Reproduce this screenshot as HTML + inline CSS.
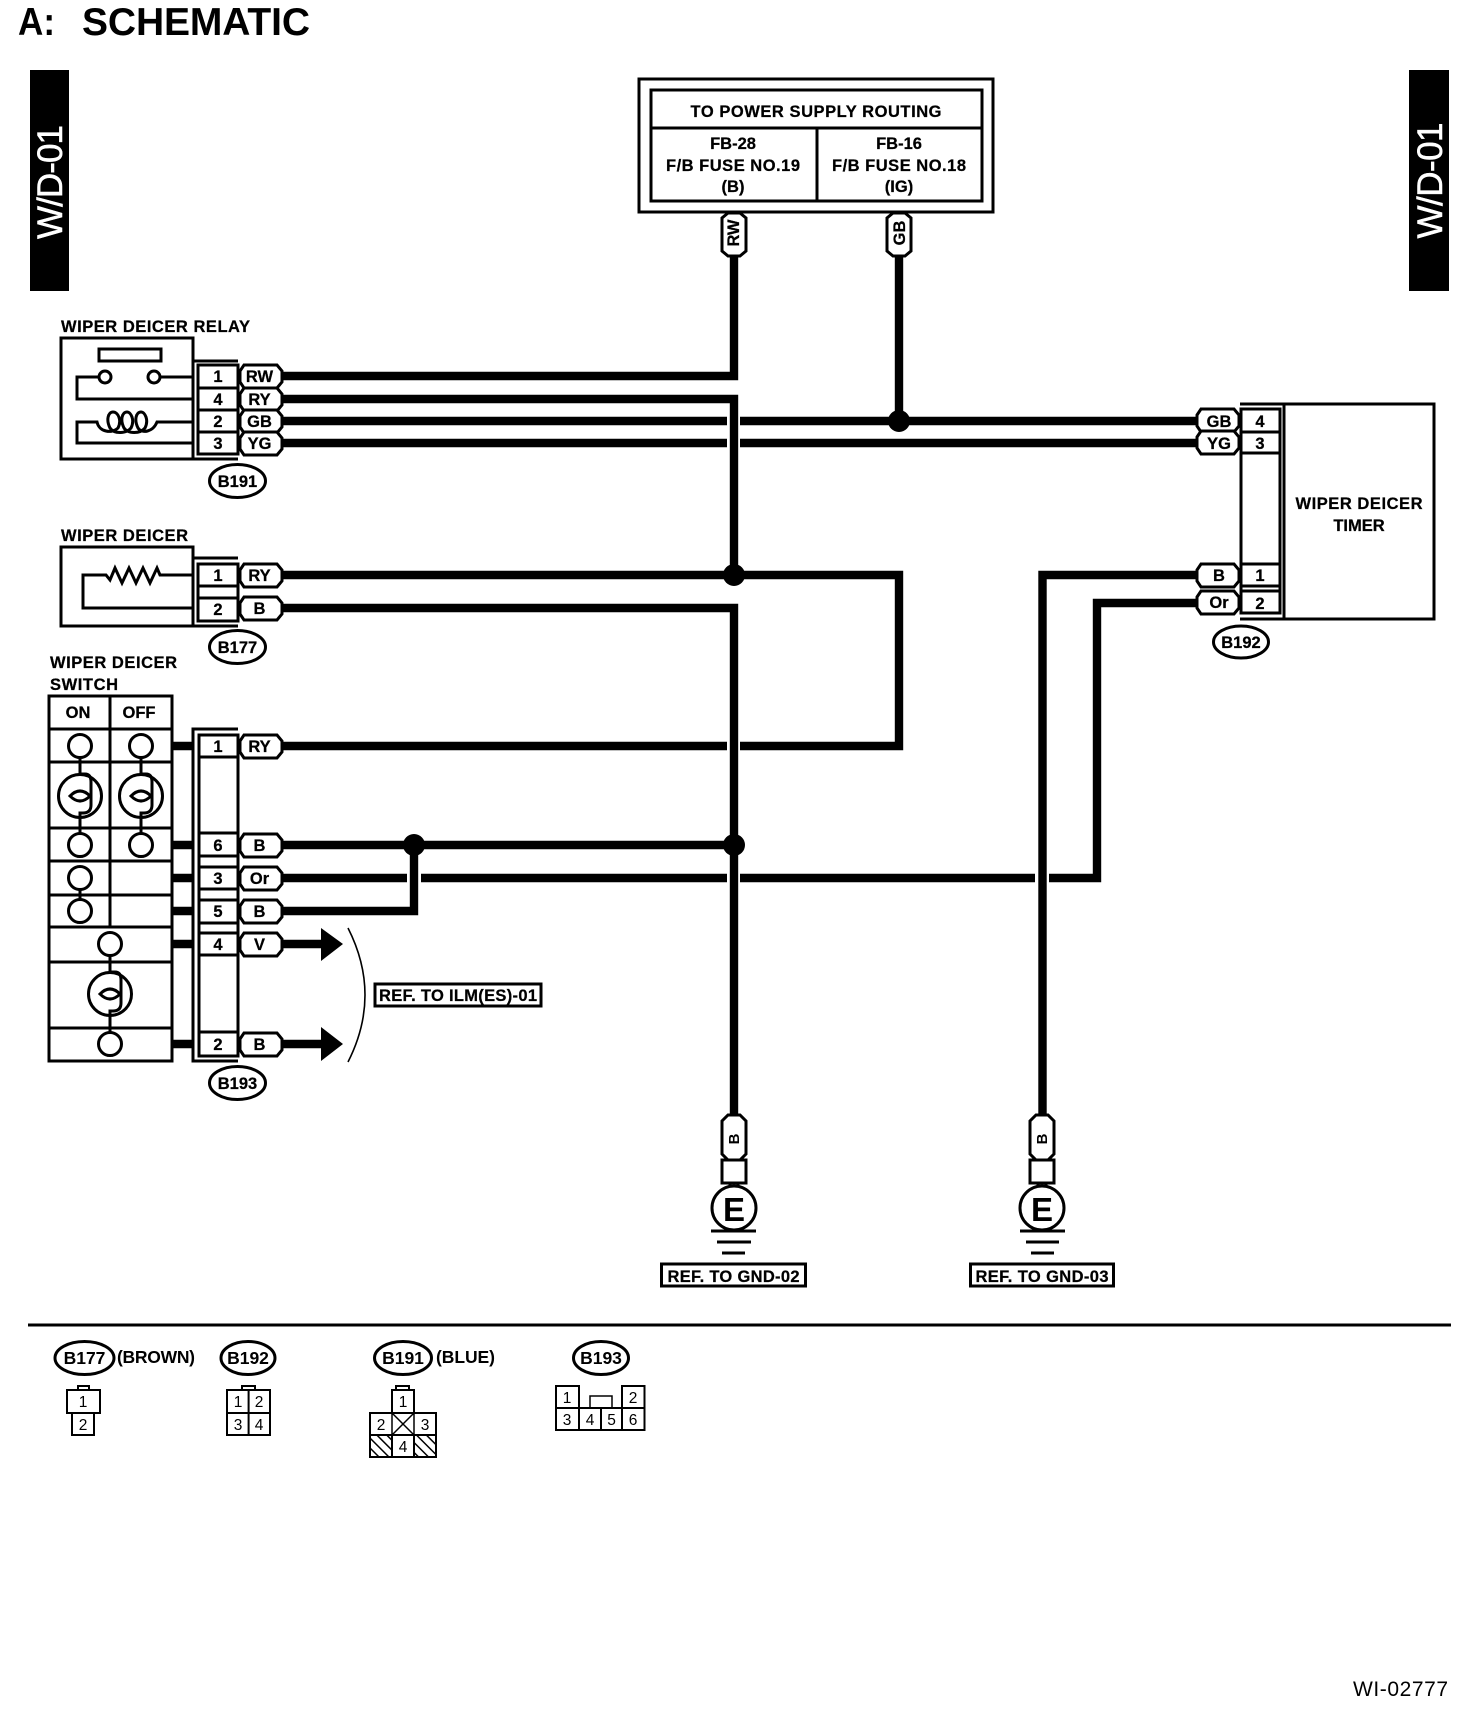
<!DOCTYPE html>
<html><head><meta charset="utf-8"><title>Schematic</title>
<style>
html,body{margin:0;padding:0;background:#fff}
svg{display:block}
text{font-family:"Liberation Sans",sans-serif;fill:#000}
.b{font-weight:700;font-size:16.5px;stroke:#000;stroke-width:.25}
.c{text-anchor:middle}
.r{font-size:15.5px;text-anchor:middle}
.l{fill:none;stroke:#000;stroke-width:3}
.lt{fill:none;stroke:#000;stroke-width:2}
.w{fill:none;stroke:#000;stroke-width:8.4;stroke-linejoin:miter}
.p{fill:#fff;stroke:#000;stroke-width:3}
</style></head><body>
<svg width="1472" height="1714" viewBox="0 0 1472 1714" xmlns="http://www.w3.org/2000/svg">
<defs>
<polygon id="pill" class="p" points="5,0 38,0 43,6 43,17 38,23 5,23 1,17 1,6"/>
<polygon id="vpill" class="p" points="6,0 18,0 24,5 24,38 18,43 6,43 0,38 0,5"/>
<g id="lamp">
<circle class="l" r="21.5"/>
<path class="l" d="M0 -39V-22H5Q11 -22 11 -14V9Q11 17 3 17H0V38"/>
<path class="l" d="M-10 0Q0 -10 10 0Q0 10 -10 0Z"/>
</g>
<pattern id="hatch" width="7" height="7" patternUnits="userSpaceOnUse" patternTransform="rotate(-45)">
<rect x="0" y="0" width="1.5" height="7" fill="#000"/>
</pattern>
</defs>

<!-- Title -->
<text x="18" y="35" font-size="39" font-weight="700" textLength="37" lengthAdjust="spacingAndGlyphs">A:</text>
<text x="82" y="35" font-size="39" font-weight="700" textLength="228">SCHEMATIC</text>

<!-- Side tabs -->
<rect x="30" y="70" width="39" height="221" fill="#000"/>
<rect x="1409" y="70" width="40" height="221" fill="#000"/>
<text transform="translate(62,239) rotate(-90)" font-size="35" textLength="114" style="fill:#fff;stroke:#fff;stroke-width:.5">W/D-01</text>
<text transform="translate(1442,238.5) rotate(-90)" font-size="35" textLength="116" style="fill:#fff;stroke:#fff;stroke-width:.5">W/D-01</text>

<!-- Power supply box -->
<rect class="l" x="639" y="79" width="354" height="133"/>
<rect class="l" x="651" y="90" width="331" height="111"/>
<path class="l" d="M651 128H982M817 128V201"/>
<text class="b c" x="816" y="117" textLength="251">TO POWER SUPPLY ROUTING</text>
<text class="b c" x="733" y="149">FB-28</text>
<text class="b c" x="733" y="171" textLength="134">F/B FUSE NO.19</text>
<text class="b c" x="733" y="192">(B)</text>
<text class="b c" x="899" y="149">FB-16</text>
<text class="b c" x="899" y="171" textLength="134">F/B FUSE NO.18</text>
<text class="b c" x="899" y="192">(IG)</text>

<!-- Wires -->
<path class="w" d="M282 376H734V256"/>
<path class="w" d="M282 399H734V575"/>
<path class="w" d="M282 421H727M740 421H1196"/>
<path class="w" d="M282 443H727M740 443H1196"/>
<path class="w" d="M282 575H899V746H740M727 746H282"/>
<path class="w" d="M899 256V421"/>
<path class="w" d="M282 608H734V1115"/>
<path class="w" d="M282 845H734"/>
<path class="w" d="M282 878H407M421 878H727M740 878H1035M1049 878H1097V603H1196"/>
<path class="w" d="M282 911H414V845"/>
<path class="w" d="M1196 575H1042.5V1115"/>
<path class="w" d="M282 944H325M282 1044H325"/>
<path class="w" d="M172 746H193M172 845H193M172 878H193M172 911H193M172 944H193M172 1044H193"/>
<circle cx="899" cy="421" r="11"/>
<circle cx="734" cy="575" r="11"/>
<circle cx="734" cy="845" r="11"/>
<circle cx="414" cy="845" r="11"/>
<polygon points="321,928 343,944 321,961"/>
<polygon points="321,1027 343,1044 321,1061"/>
<path class="lt" d="M348 928Q382 995 348 1062" style="stroke-width:1.6"/>

<!-- Top vertical pills -->
<use href="#vpill" x="722" y="213"/>
<use href="#vpill" x="887" y="213"/>
<text class="b c" transform="translate(739,233) rotate(-90)" textLength="27">RW</text>
<text class="b c" transform="translate(905,233) rotate(-90)">GB</text>

<!-- Relay -->
<text class="b" x="61" y="332" textLength="189">WIPER DEICER RELAY</text>
<rect class="l" x="61" y="338" width="132" height="121"/>
<rect class="l" x="99" y="349" width="62" height="12"/>
<circle class="l" cx="105" cy="377" r="6"/>
<circle class="l" cx="154" cy="377" r="6"/>
<path class="l" d="M193 377H160M99 377H77V399H193"/>
<path class="l" d="M193 443H77V422H97C99 432 112 434 118 428C122 420 118 412 113 412C108 412 106 420 110 428C114 434 126 434 131 428C135 420 131 412 127 412C122 412 120 420 124 428C128 434 140 434 145 428C149 420 145 412 141 412C136 412 134 420 138 428C142 434 153 432 157 422H193"/>
<path class="l" d="M193 361H238M193 459H238"/>
<rect class="l" x="198" y="365" width="40" height="89"/>
<path class="l" d="M198 388H238M198 410H238M198 432H238"/>
<text class="b c" x="218" y="382">1</text>
<text class="b c" x="218" y="405">4</text>
<text class="b c" x="218" y="427">2</text>
<text class="b c" x="218" y="449">3</text>
<use href="#pill" x="239" y="365"/><use href="#pill" x="239" y="388"/><use href="#pill" x="239" y="410"/><use href="#pill" x="239" y="432"/>
<text class="b c" x="259.5" y="382">RW</text>
<text class="b c" x="259.5" y="405">RY</text>
<text class="b c" x="259.5" y="427">GB</text>
<text class="b c" x="259.5" y="449">YG</text>
<ellipse class="l" cx="237.5" cy="481" rx="28" ry="16.5"/>
<text class="b c" x="237.5" y="487">B191</text>

<!-- Deicer -->
<text class="b" x="61" y="541" textLength="127">WIPER DEICER</text>
<rect class="l" x="61" y="547" width="132" height="79"/>
<path class="l" d="M193 575H160L157 568L150 583L143 568L136 583L129 568L122 583L115 568L110 580L106 575H83V608H193"/>
<path class="l" d="M193 558H238M193 626H238"/>
<rect class="l" x="198" y="564" width="40" height="57"/>
<path class="l" d="M198 586H238M198 598H238"/>
<text class="b c" x="218" y="581">1</text>
<text class="b c" x="218" y="615">2</text>
<use href="#pill" x="239" y="564"/><use href="#pill" x="239" y="597"/>
<text class="b c" x="259.5" y="581">RY</text>
<text class="b c" x="259.5" y="614">B</text>
<ellipse class="l" cx="237.5" cy="647" rx="28" ry="16.5"/>
<text class="b c" x="237.5" y="653">B177</text>

<!-- Switch -->
<text class="b" x="50" y="668" textLength="127">WIPER DEICER</text>
<text class="b" x="50" y="690" textLength="68">SWITCH</text>
<rect class="l" x="49" y="696" width="123" height="365"/>
<path class="l" d="M110 696V927M49 729H172M49 762H172M49 828H172M49 861H172M49 895H172M49 927H172M49 962H172M49 1028H172"/>
<text class="b c" x="78" y="718">ON</text>
<text class="b c" x="139" y="718">OFF</text>
<g class="l" fill="#fff">
<circle cx="80" cy="746" r="11.5"/><circle cx="141" cy="746" r="11.5"/>
<circle cx="80" cy="845" r="11.5"/><circle cx="141" cy="845" r="11.5"/>
<circle cx="80" cy="878" r="11.5"/><circle cx="80" cy="911" r="11.5"/>
<circle cx="110" cy="944" r="11.5"/><circle cx="110" cy="1044" r="11.5"/>
</g>
<path class="l" d="M80 889.5V899.5"/>
<use href="#lamp" x="80" y="796"/>
<use href="#lamp" x="141" y="796"/>
<use href="#lamp" x="110" y="994"/>

<!-- B193 connector -->
<path class="l" d="M238 729H193V1061H238"/>
<rect class="l" x="199" y="735" width="39" height="321"/>
<path class="l" d="M199 757H238M199 833H238M199 856H238M199 867H238M199 889H238M199 900H238M199 923H238M199 933H238M199 955H238M199 1032H238"/>
<text class="b c" x="218" y="752">1</text>
<text class="b c" x="218" y="851">6</text>
<text class="b c" x="218" y="884">3</text>
<text class="b c" x="218" y="917">5</text>
<text class="b c" x="218" y="950">4</text>
<text class="b c" x="218" y="1050">2</text>
<use href="#pill" x="239" y="735"/><use href="#pill" x="239" y="834"/><use href="#pill" x="239" y="867"/><use href="#pill" x="239" y="900"/><use href="#pill" x="239" y="933"/><use href="#pill" x="239" y="1033"/>
<text class="b c" x="259.5" y="752">RY</text>
<text class="b c" x="259.5" y="851">B</text>
<text class="b c" x="259.5" y="884">Or</text>
<text class="b c" x="259.5" y="917">B</text>
<text class="b c" x="259.5" y="950">V</text>
<text class="b c" x="259.5" y="1050">B</text>
<ellipse class="l" cx="237.5" cy="1083" rx="28" ry="16.5"/>
<text class="b c" x="237.5" y="1089">B193</text>

<!-- REF ILM -->
<rect class="l" x="375" y="984" width="166" height="22"/>
<text class="b" x="379" y="1001" textLength="158">REF. TO ILM(ES)-01</text>

<!-- Timer -->
<rect class="l" x="1284" y="404" width="150" height="215"/>
<path class="l" d="M1240 404H1284M1240 619H1284"/>
<rect class="l" x="1241" y="409" width="39" height="204"/>
<path class="l" d="M1241 432H1280M1241 453H1280M1241 564H1280M1241 586H1280M1241 591H1280"/>
<text class="b c" x="1260" y="427">4</text>
<text class="b c" x="1260" y="449">3</text>
<text class="b c" x="1260" y="581">1</text>
<text class="b c" x="1260" y="609">2</text>
<use href="#pill" x="1196" y="409"/><use href="#pill" x="1196" y="431"/><use href="#pill" x="1196" y="564"/><use href="#pill" x="1196" y="591"/>
<text class="b c" x="1219" y="427">GB</text>
<text class="b c" x="1219" y="449">YG</text>
<text class="b c" x="1219" y="581">B</text>
<text class="b c" x="1219" y="608">Or</text>
<text class="b c" x="1359" y="509" textLength="127">WIPER DEICER</text>
<text class="b c" x="1359" y="531">TIMER</text>
<ellipse class="l" cx="1241" cy="642" rx="27.5" ry="16"/>
<text class="b c" x="1241" y="648">B192</text>

<!-- Ground 1 -->
<rect class="p" x="722" y="1160" width="24" height="23"/>
<path class="l" d="M730 1183V1188M738 1183V1188"/>
<circle class="p" cx="734" cy="1208" r="22"/>
<path class="l" d="M711 1231H756M717 1242H751M722 1253H745"/>
<polygon class="p" points="728,1115 740,1115 746,1121 746,1154 740,1160 728,1160 722,1154 722,1121"/>
<text class="c" transform="translate(739,1139) rotate(-90)" font-size="15" font-weight="700">B</text>
<text class="c" x="734" y="1221" font-size="33" font-weight="700">E</text>
<rect class="l" x="661.5" y="1264" width="144" height="22"/>
<text class="b c" x="733.5" y="1282" textLength="132">REF. TO GND-02</text>

<!-- Ground 2 -->
<rect class="p" x="1030" y="1160" width="24" height="23"/>
<path class="l" d="M1038 1183V1188M1046 1183V1188"/>
<circle class="p" cx="1042" cy="1208" r="22"/>
<path class="l" d="M1020 1231H1065M1026 1242H1059M1031 1253H1054"/>
<polygon class="p" points="1036,1115 1048,1115 1054,1121 1054,1154 1048,1160 1036,1160 1030,1154 1030,1121"/>
<text class="c" transform="translate(1047,1139) rotate(-90)" font-size="15" font-weight="700">B</text>
<text class="c" x="1042" y="1221" font-size="33" font-weight="700">E</text>
<rect class="l" x="970.5" y="1264" width="143" height="22"/>
<text class="b c" x="1042" y="1282" textLength="133">REF. TO GND-03</text>

<!-- Divider -->
<path d="M28 1325H1451" stroke="#000" stroke-width="3"/>

<!-- Legend -->
<ellipse class="l" cx="84.5" cy="1358" rx="29.5" ry="16.5"/>
<text class="c" x="84.5" y="1364" font-size="17.5" font-weight="700">B177</text>
<text x="117" y="1363" font-size="17.5" font-weight="700" textLength="78">(BROWN)</text>
<ellipse class="l" cx="248" cy="1358" rx="27" ry="16.5"/>
<text class="c" x="248" y="1364" font-size="17.5" font-weight="700">B192</text>
<ellipse class="l" cx="403" cy="1358" rx="28.5" ry="16.5"/>
<text class="c" x="403" y="1364" font-size="17.5" font-weight="700">B191</text>
<text x="436" y="1363" font-size="17.5" font-weight="700" textLength="59">(BLUE)</text>
<ellipse class="l" cx="601" cy="1358" rx="27.5" ry="16.5"/>
<text class="c" x="601" y="1364" font-size="17.5" font-weight="700">B193</text>

<g class="lt">
<!-- B177 -->
<rect x="78" y="1386" width="11" height="4"/>
<rect x="67" y="1390" width="33" height="23"/>
<rect x="72" y="1413" width="22" height="22"/>
<!-- B192 -->
<rect x="242" y="1386" width="13" height="4"/>
<rect x="227" y="1390" width="43" height="45"/>
<path d="M248.6 1390V1435M227 1413H270"/>
<!-- B191 -->
<rect x="396" y="1386" width="13" height="4"/>
<rect x="392" y="1390" width="22" height="23"/>
<rect x="370" y="1413" width="66" height="22"/>
<rect x="370" y="1435" width="22" height="22" fill="url(#hatch)"/>
<rect x="392" y="1435" width="22" height="22"/>
<rect x="414" y="1435" width="22" height="22" fill="url(#hatch)"/>
<path d="M392 1413V1435M414 1413V1435M392 1413L414 1435M414 1413L392 1435" style="stroke-width:1.5"/>
<!-- B193 -->
<rect x="556" y="1386" width="23" height="22"/>
<rect x="622" y="1386" width="22.5" height="22"/>
<rect x="590" y="1396" width="22" height="12" style="stroke-width:1.5"/>
<rect x="556" y="1408" width="88.5" height="22"/>
<path d="M579 1408V1430M601 1408V1430M622 1408V1430"/>
</g>
<text class="r" x="83" y="1407">1</text>
<text class="r" x="83" y="1430">2</text>
<text class="r" x="238" y="1407">1</text>
<text class="r" x="259" y="1407">2</text>
<text class="r" x="238" y="1430">3</text>
<text class="r" x="259" y="1430">4</text>
<text class="r" x="403" y="1407">1</text>
<text class="r" x="381" y="1430">2</text>
<text class="r" x="425" y="1430">3</text>
<text class="r" x="403" y="1452">4</text>
<text class="r" x="567" y="1403">1</text>
<text class="r" x="633" y="1403">2</text>
<text class="r" x="567" y="1425">3</text>
<text class="r" x="590" y="1425">4</text>
<text class="r" x="611.5" y="1425">5</text>
<text class="r" x="633" y="1425">6</text>

<text x="1353" y="1696" font-size="21" textLength="95">WI-02777</text>
</svg>
</body></html>
